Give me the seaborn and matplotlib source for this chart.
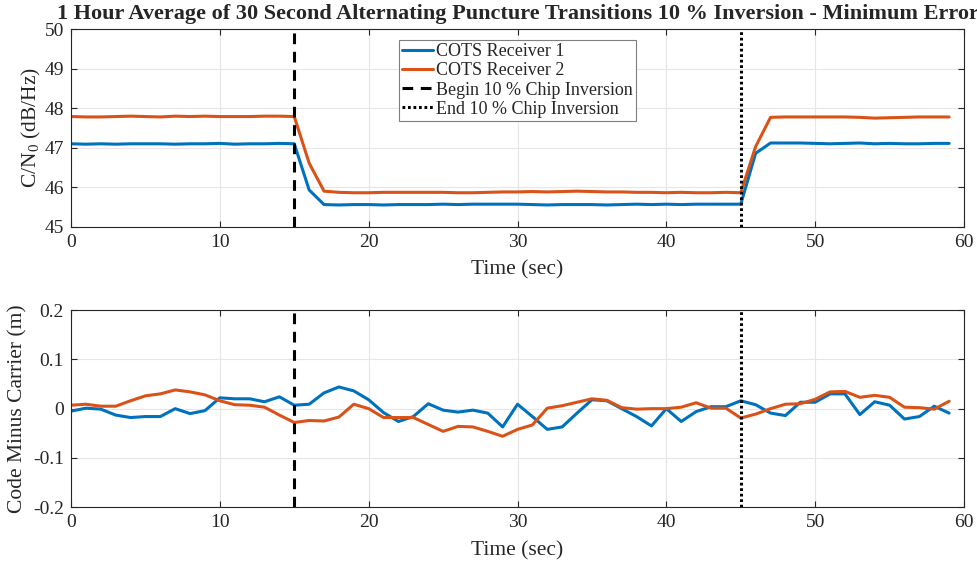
import numpy as np
import pandas as pd
import matplotlib
matplotlib.use("Agg")
import matplotlib.pyplot as plt
import seaborn as sns

time_s = list(range(60))

cn0_rx1 = [47.10, 47.09, 47.10, 47.09, 47.10, 47.10, 47.10, 47.09, 47.10, 47.10,
           47.11, 47.09, 47.10, 47.10, 47.11, 47.10, 45.93, 45.56, 45.55, 45.56,
           45.56, 45.55, 45.56, 45.56, 45.56, 45.57, 45.56, 45.57, 45.57, 45.57,
           45.57, 45.56, 45.55, 45.56, 45.56, 45.56, 45.55, 45.56, 45.57, 45.56,
           45.57, 45.56, 45.57, 45.57, 45.57, 45.57, 46.86, 47.12, 47.12, 47.12,
           47.11, 47.10, 47.11, 47.12, 47.10, 47.11, 47.10, 47.10, 47.11, 47.11]
cn0_rx2 = [47.79, 47.78, 47.78, 47.79, 47.80, 47.79, 47.78, 47.80, 47.79, 47.80,
           47.79, 47.79, 47.79, 47.80, 47.80, 47.79, 46.61, 45.90, 45.87, 45.86,
           45.86, 45.87, 45.87, 45.87, 45.87, 45.87, 45.86, 45.86, 45.87, 45.88,
           45.88, 45.89, 45.88, 45.89, 45.90, 45.89, 45.88, 45.88, 45.87, 45.87,
           45.86, 45.87, 45.86, 45.86, 45.87, 45.86, 47.03, 47.77, 47.78, 47.78,
           47.78, 47.78, 47.78, 47.77, 47.75, 47.76, 47.77, 47.78, 47.78, 47.78]

cmc_rx1 = [-0.005, 0.001, -0.001, -0.013, -0.018, -0.016, -0.016, 0.000, -0.010, -0.004,
           0.022, 0.020, 0.020, 0.014, 0.024, 0.007, 0.009, 0.032, 0.044, 0.036,
           0.018, -0.008, -0.026, -0.016, 0.010, -0.003, -0.007, -0.003, -0.009, -0.037,
           0.009, -0.016, -0.042, -0.037, -0.009, 0.018, 0.016, 0.000, -0.016, -0.035,
           0.000, -0.026, -0.006, 0.004, 0.004, 0.016, 0.008, -0.009, -0.014, 0.013,
           0.013, 0.030, 0.030, -0.012, 0.014, 0.007, -0.021, -0.016, 0.005, -0.009]
cmc_rx2 = [0.007, 0.009, 0.005, 0.005, 0.016, 0.026, 0.030, 0.038, 0.034, 0.028,
           0.016, 0.008, 0.007, 0.003, -0.013, -0.028, -0.024, -0.025, -0.017, 0.009,
           0.000, -0.018, -0.018, -0.018, -0.032, -0.046, -0.036, -0.037, -0.046, -0.056,
           -0.042, -0.033, 0.001, 0.006, 0.013, 0.020, 0.017, 0.002, -0.001, 0.000,
           0.000, 0.003, 0.012, 0.001, 0.001, -0.019, -0.011, 0.000, 0.009, 0.010,
           0.019, 0.034, 0.035, 0.023, 0.027, 0.023, 0.003, 0.002, -0.001, 0.015]

series_names = ["COTS Receiver 1", "COTS Receiver 2"]
event_times = [15, 45]
event_labels = ["Begin 10 % Chip Inversion", "End 10 % Chip Inversion"]

sns.set_theme(style="whitegrid")
plt.rcParams['font.family'] = ['Liberation Serif', 'DejaVu Serif']
plt.rcParams['mathtext.fontset'] = 'custom'
plt.rcParams['mathtext.rm'] = 'Liberation Serif'
plt.rcParams['mathtext.it'] = 'Liberation Serif'

df_top = pd.DataFrame({
    "time": time_s * 2,
    "value": cn0_rx1 + cn0_rx2,
    "series": [series_names[0]] * 60 + [series_names[1]] * 60,
})
df_bot = pd.DataFrame({
    "time": time_s * 2,
    "value": cmc_rx1 + cmc_rx2,
    "series": [series_names[0]] * 60 + [series_names[1]] * 60,
})

palette = {series_names[0]: "#0072BD", series_names[1]: "#D95319"}

fig = plt.figure(figsize=(9.77, 5.65), dpi=100)
ax1 = fig.add_axes([0.0727, 0.5988, 0.9140, 0.3493])
ax2 = fig.add_axes([0.0727, 0.1021, 0.9140, 0.3492])

lw = 2.2
ev_styles = [(0, (3.5, 2.5)), (0, (0.9, 0.9))]

for ax, df in [(ax1, df_top), (ax2, df_bot)]:
    sns.lineplot(data=df, x="time", y="value", hue="series", palette=palette,
                 linewidth=lw, ax=ax, legend=False, estimator=None)
    for t, ls, lab in zip(event_times, ev_styles, event_labels):
        ax.axvline(t, color="black", linestyle=ls, linewidth=lw, label=lab)
    ax.set_xlim(0, 60)
    ax.set_xticks(range(0, 61, 10))
    ax.grid(True, color="#e6e6e6", linewidth=0.8)
    ax.set_facecolor("white")
    for sp in ax.spines.values():
        sp.set_color("#262626")
        sp.set_linewidth(0.8)
    ax.tick_params(direction="in", length=4, width=0.8, colors="#262626",
                   labelsize=14, top=True, right=True, bottom=True, left=True,
                   pad=5)
    ax.set_xlabel("Time (sec)", fontsize=15.5, color="#262626", labelpad=7)

ax1.set_ylim(45, 50)
ax1.set_yticks(range(45, 51))
ax1.set_ylabel("C/N$_{0}$ (dB/Hz)", fontsize=15.5, color="#262626", labelpad=1)

ax2.set_ylim(-0.2, 0.2)
ax2.set_yticks([-0.2, -0.1, 0, 0.1, 0.2])
ax2.set_yticklabels(["-0.2", "-0.1", "0", "0.1", "0.2"])
ax2.set_ylabel("Code Minus Carrier (m)", fontsize=15.5, color="#262626", labelpad=4)

ax1.set_title("1 Hour Average of 30 Second Alternating Puncture Transitions 10 % Inversion - Minimum Error",
              fontsize=16, fontweight="bold", pad=7.5)

handles = list(ax1.get_lines()[:2]) + list(ax1.get_lines()[2:4])
labels = series_names + event_labels
leg = ax1.legend(handles, labels, loc="upper left", bbox_to_anchor=(0.367, 0.948),
                 fontsize=13, frameon=True, fancybox=False, framealpha=1,
                 edgecolor="#7f7f7f", handlelength=1.7, handletextpad=0.15,
                 borderpad=0.2, labelspacing=0.12, borderaxespad=0)
leg.get_frame().set_linewidth(0.8)

fig.savefig("out.png", dpi=100)
